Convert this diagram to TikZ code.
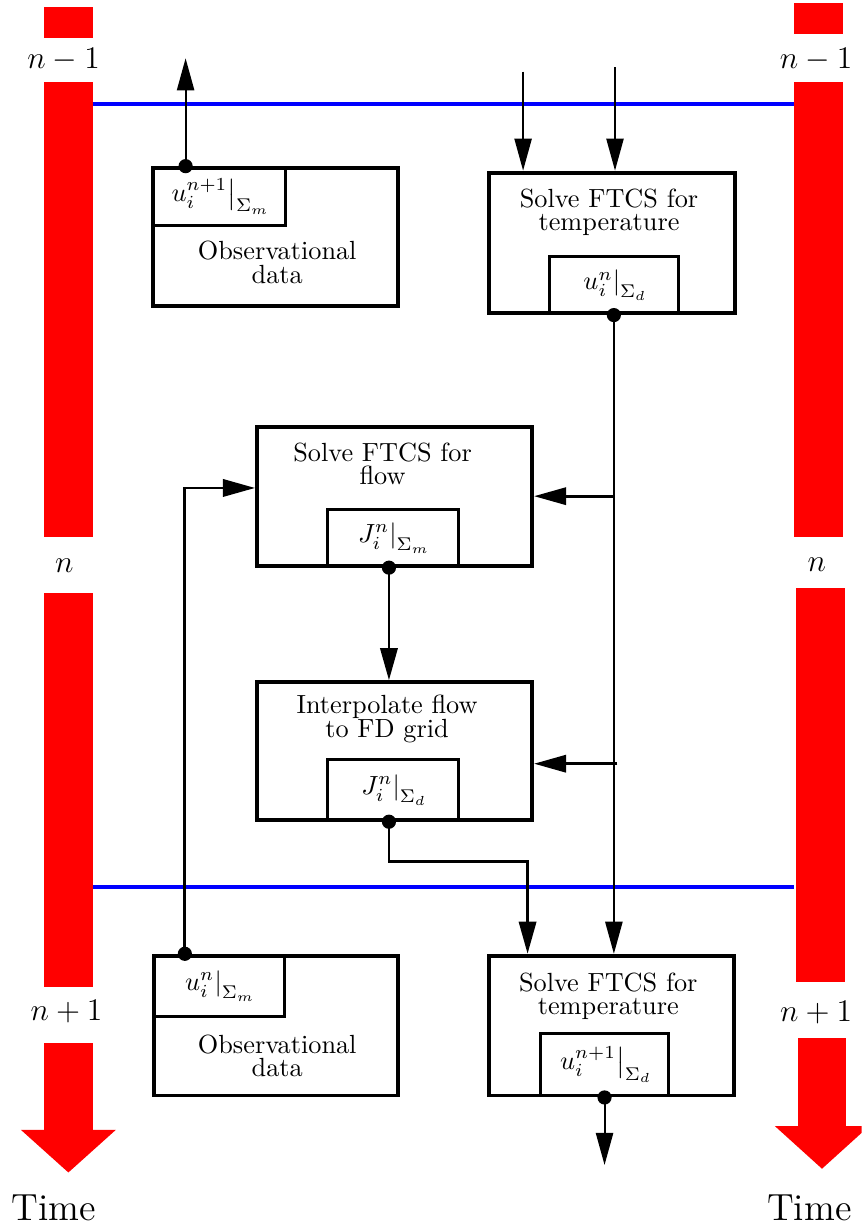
\documentclass[tikz,border=0pt]{standalone}
\usepackage{amsmath}
\usetikzlibrary{arrows.meta,positioning,calc}
\tikzset{box/.style={draw,line width=1.5pt,inner sep=0,minimum width=3.28cm,minimum height=1.86cm}, sub/.style={draw,line width=1.1pt,inner sep=0,minimum height=0.77cm}, txt/.style={align=center,font=\fontsize{10}{9}\selectfont,inner sep=0}, dot/.style={circle,fill,inner sep=0,minimum size=5.4pt}, arr/.style={-{Triangle[length=4.3mm,width=2.3mm]},line width=0.75pt}, thickarr/.style={arr,line width=1.1pt}, bar/.style={fill=red}, level/.style={blue,line width=1.8pt}, lbl/.style={font=\large,inner sep=0}, timelbl/.style={font=\Large,inner sep=0}}

\begin{document}
\begin{tikzpicture}[x=1cm,y=1cm]
\clip (0,0) rectangle (11.53,-16.46);
% time bars
\fill[bar] (0.59,-0.09) rectangle (1.24,-0.51);
\fill[bar] (0.59,-1.10) rectangle (1.24,-7.19);
\fill[bar] (0.59,-7.93) rectangle (1.24,-13.21);
\fill[bar] (0.59,-13.96) rectangle (1.24,-15.12);
\fill[bar] (0.28,-15.12) -- (1.55,-15.12) -- (0.915,-15.69) -- cycle;
\fill[bar] (10.62,-0.04) rectangle (11.28,-0.45);
\fill[bar] (10.62,-1.10) rectangle (11.28,-7.19);
\fill[bar] (10.65,-7.87) rectangle (11.31,-13.14);
\fill[bar] (10.68,-13.89) rectangle (11.32,-15.07);
\fill[bar] (10.37,-15.07) -- (11.63,-15.07) -- (11.0,-15.64) -- cycle;
\node[lbl] (lprev) at (0.85,-0.80) {$n-1$};
\node[lbl] (lcur) at (0.86,-7.57) {$n$};
\node[lbl] (lnext) at (0.89,-13.54) {$n+1$};
\node[timelbl] (ltime) at (0.72,-16.17) {Time};
\node[lbl] (rprev) at (10.92,-0.80) {$n-1$};
\node[lbl] (rcur) at (10.93,-7.56) {$n$};
\node[lbl] (rnext) at (10.92,-13.55) {$n+1$};
\node[timelbl] (rtime) at (10.83,-16.17) {Time};
\draw[level] (1.24,-1.39) -- (10.62,-1.39);
\draw[level] (1.24,-11.87) -- (10.62,-11.87);

% boxes at level n-1
\node[box,minimum height=1.84cm] (obsTop) at (3.69,-3.17) {};
\node[sub,anchor=north west,minimum width=1.78cm] (obsTopVal) at (obsTop.north west) {$\left.u_i^{n+1}\right|_{\Sigma_m}$};
\node[txt] (obsTopTxt) at (3.71,-3.51) {Observational\\data};
\node[box,minimum width=3.29cm,minimum height=1.88cm] (tempTop) at (8.185,-3.25) {};
\node[sub,anchor=south,minimum width=1.73cm,minimum height=0.76cm] (tempTopVal) at ([xshift=0.03cm]tempTop.south) {$\left.u_i^{n}\right|_{\Sigma_d}$};
\node[txt] (tempTopTxt) at (8.15,-2.84) {Solve FTCS for\\temperature};

% flow boxes
\node[box,minimum width=3.68cm] (flow) at (5.28,-6.64) {};
\node[sub,anchor=south,minimum width=1.75cm,minimum height=0.76cm] (flowVal) at ([xshift=-0.025cm]flow.south) {$\left.J_i^{n}\right|_{\Sigma_m}$};
\node[txt] (flowTxt) at (5.12,-6.21) {Solve FTCS for\\flow};
\node[box,minimum width=3.68cm,minimum height=1.84cm] (interp) at (5.28,-10.05) {};
\node[sub,anchor=south,minimum width=1.75cm,minimum height=0.81cm] (interpVal) at ([xshift=-0.025cm]interp.south) {$\left.J_i^{n}\right|_{\Sigma_d}$};
\node[txt] (interpTxt) at (5.18,-9.62) {Interpolate flow\\to FD grid};

% boxes at level n+1
\node[box,minimum width=3.27cm,minimum height=1.87cm] (obsBot) at (3.695,-13.725) {};
\node[sub,anchor=north west,minimum width=1.75cm,minimum height=0.82cm] (obsBotVal) at (obsBot.north west) {$\left.u_i^{n}\right|_{\Sigma_m}$};
\node[txt] (obsBotTxt) at (3.71,-14.13) {Observational\\data};
\node[box,minimum width=3.28cm,minimum height=1.87cm] (tempBot) at (8.18,-13.725) {};
\node[sub,anchor=south,minimum width=1.72cm,minimum height=0.84cm] (tempBotVal) at ([xshift=-0.09cm]tempBot.south) {$\left.u_i^{n+1}\right|_{\Sigma_d}$};
\node[txt] (tempBotTxt) at (8.14,-13.33) {Solve FTCS for\\temperature};

% connectors
\node[dot] (dotA) at ([xshift=0.46cm]obsTop.north west) {};
\node[dot] (dotB) at (tempTopVal.south) {};
\node[dot] (dotC) at ([xshift=-0.05cm]flowVal.south) {};
\node[dot] (dotD) at ([xshift=-0.05cm]interpVal.south) {};
\node[dot] (dotE) at ([xshift=0.44cm]obsBot.north west) {};
\node[dot] (dotF) at (tempBotVal.south) {};
\coordinate (upA) at (2.49,-0.78);
\coordinate (inA) at (7.00,-0.96);
\coordinate (inB) at (8.23,-0.90);
\coordinate (tapD) at (8.26,-10.22);
\coordinate (bend) at (7.06,-11.53);
\coordinate (outF) at (8.09,-15.59);
\draw[arr] (dotA.center) -- (dotA |- upA);
\draw[arr] (inA) -- (inA |- tempTop.north);
\draw[arr] (inB) -- (inB |- tempTop.north);
\draw[arr] (dotB.center) -- (dotB |- tempBot.north);
\draw[thickarr] (flow.east -| dotB) -- (flow.east);
\draw[thickarr] (tapD) -- (tapD -| interp.east);
\draw[thickarr] (dotC.center) -- (dotC |- interp.north);
\draw[thickarr] (dotD.center) |- (bend) -- (bend |- tempBot.north);
\draw[thickarr] (dotE.center) |- ([yshift=0.11cm]flow.west);
\draw[arr] (dotF.center) -- (dotF |- outF);
\end{tikzpicture}
\end{document}
